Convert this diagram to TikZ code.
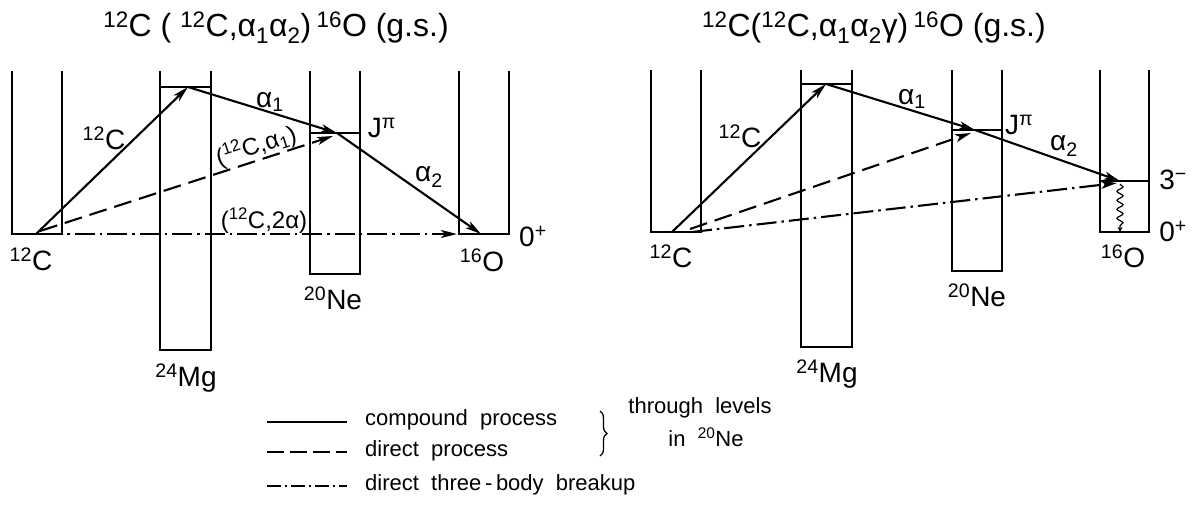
\documentclass[tikz,border=0pt]{standalone}
\usepackage{fontspec}
\setmainfont{Liberation Sans}
\usetikzlibrary{arrows.meta,decorations.pathmorphing,decorations.pathreplacing}
\newcommand\isot[2]{\textsuperscript{#1}#2}
\begin{document}
\begin{tikzpicture}[x=1pt,y=-1pt,
  well/.style={line width=1.7pt},
  arr/.style={line width=2.1pt,-{Stealth[length=16pt,width=8pt,inset=4pt]}},
  dasharr/.style={arr,dash pattern=on 18pt off 8pt},
  dotarr/.style={arr,dash pattern=on 20pt off 5pt on 2.5pt off 5pt},
  lbl/.style={font=\fontsize{28}{30}\selectfont,inner sep=0pt},
  slbl/.style={font=\fontsize{24}{26}\selectfont,inner sep=0pt},
  ttl/.style={font=\fontsize{32}{34}\selectfont,inner sep=0pt},
  leg/.style={font=\fontsize{22}{24}\selectfont,inner sep=0pt,anchor=west},
  legline/.style={line width=1.6pt}]
\useasboundingbox (0,0) rectangle (1194,504);

% ---------- left diagram ----------
\node[ttl] (tL) at (276,28) {\isot{12}{C} ( \isot{12}{C},α\textsubscript{1}α\textsubscript{2})\,\isot{16}{O} (g.s.)};
\draw[well] (12,71) -- (12,234) -- (62,234) -- (62,71);
\draw[well] (160,71) -- (160,350) -- (211,350) -- (211,71);
\draw[well] (160,87) -- (211,87);
\draw[well] (310,71) -- (310,274) -- (360,274) -- (360,71);
\draw[well] (310,133) -- (360,133);
\draw[well] (459,71) -- (459,234) -- (509,234) -- (509,71);
\coordinate (A1) at (36,234);
\coordinate (B1) at (188,87);
\coordinate (C1) at (337,133);
\coordinate (D1) at (481,234);
\coordinate (A1d) at (40,231);
\coordinate (C1d) at (333,136);
\coordinate (A1e) at (42,234);
\coordinate (D1e) at (457,234);
\draw[arr] (A1) -- (B1);
\draw[arr] (B1) -- (C1);
\draw[arr] (C1) -- (D1);
\draw[dasharr] (A1d) -- (C1d);
\draw[dotarr] (A1e) -- (D1e);
\node[lbl] (l12a) at (104,138) {\isot{12}{C}};
\node[lbl] (la1) at (270,102) {α\textsubscript{1}};
\node[slbl,rotate=18] (ldir) at (256,146) {(\isot{12}{C},α\textsubscript{1})};
\node[lbl] (lJ) at (382,128) {J\textsuperscript{π}};
\node[lbl] (la2) at (429,177) {α\textsubscript{2}};
\node[slbl] (l2a) at (264,221) {(\isot{12}{C},2α)};
\node[lbl] (lC) at (31,259) {\isot{12}{C}};
\node[lbl] (lO) at (482,260) {\isot{16}{O}};
\node[lbl] (lOp) at (533,236) {0\textsuperscript{+}};
\node[lbl] (lMg) at (186,378) {\isot{24}{Mg}};
\node[lbl] (lNe) at (333,298) {\isot{20}{Ne}};

% ---------- right diagram ----------
\node[ttl] (tR) at (874,28) {\isot{12}{C}(\isot{12}{C},α\textsubscript{1}α\textsubscript{2}γ)\,\isot{16}{O} (g.s.)};
\draw[well] (651,70) -- (651,232) -- (701,232) -- (701,70);
\draw[well] (801,70) -- (801,347) -- (852,347) -- (852,70);
\draw[well] (801,84) -- (852,84);
\draw[well] (952,70) -- (952,271) -- (1002,271) -- (1002,70);
\draw[well] (952,130) -- (1002,130);
\draw[well] (1100,70) -- (1100,232) -- (1149,232) -- (1149,70);
\draw[well] (1100,181) -- (1149,181);
\coordinate (A2) at (672,232);
\coordinate (B2) at (826,84);
\coordinate (C2) at (975,130);
\coordinate (D2) at (1120,181);
\coordinate (A2d) at (690,229);
\coordinate (C2d) at (971,133);
\coordinate (A2e) at (692,232);
\coordinate (D2e) at (1117,183);
\coordinate (W1) at (1120,184);
\coordinate (W2) at (1120,232);
\draw[arr] (A2) -- (B2);
\draw[arr] (B2) -- (C2);
\draw[arr] (C2) -- (D2);
\draw[dasharr] (A2d) -- (C2d);
\draw[dotarr] (A2e) -- (D2e);
\draw[line width=1.2pt,decorate,decoration={snake,amplitude=3pt,segment length=9pt,post length=5pt},-{Stealth[length=5pt,width=5pt]}] (W1) -- (W2);
\node[lbl] (r12a) at (740,136) {\isot{12}{C}};
\node[lbl] (ra1) at (912,99) {α\textsubscript{1}};
\node[lbl] (rJ) at (1019,125) {J\textsuperscript{π}};
\node[lbl] (ra2) at (1064,146) {α\textsubscript{2}};
\node[lbl] (r3m) at (1173,180) {3\textsuperscript{−}};
\node[lbl] (rOp) at (1173,231) {0\textsuperscript{+}};
\node[lbl] (rO) at (1123,256) {\isot{16}{O}};
\node[lbl] (rC) at (671,256) {\isot{12}{C}};
\node[lbl] (rMg) at (827,374) {\isot{24}{Mg}};
\node[lbl] (rNe) at (977,295) {\isot{20}{Ne}};

% ---------- legend ----------
\coordinate (g1a) at (267,422); \coordinate (g1b) at (347,422);
\coordinate (g2a) at (267,452); \coordinate (g2b) at (347,452);
\coordinate (g3a) at (267,486); \coordinate (g3b) at (347,486);
\draw[legline] (g1a) -- (g1b);
\draw[legline,dash pattern=on 17pt off 6pt] (g2a) -- (g2b);
\draw[legline,dash pattern=on 14pt off 4pt on 2pt off 4pt] (g3a) -- (g3b);
\node[leg] (t1) at (365,420) {compound\ \ process};
\node[leg] (t2) at (365,451) {direct\ \ process};
\node[leg] (t3) at (365,485) {direct\ \ three\,-\,body\ \ breakup};
\coordinate (br1) at (600,411);
\coordinate (br2) at (600,456);
\draw[line width=1.3pt,decorate,decoration={brace,amplitude=7pt}] (br1) -- (br2);
\node[leg,anchor=center] (t4) at (700,408) {through\ \ levels};
\node[leg,anchor=center] (t5) at (706,437) {in\ \ \isot{20}{Ne}};
\end{tikzpicture}
\end{document}
